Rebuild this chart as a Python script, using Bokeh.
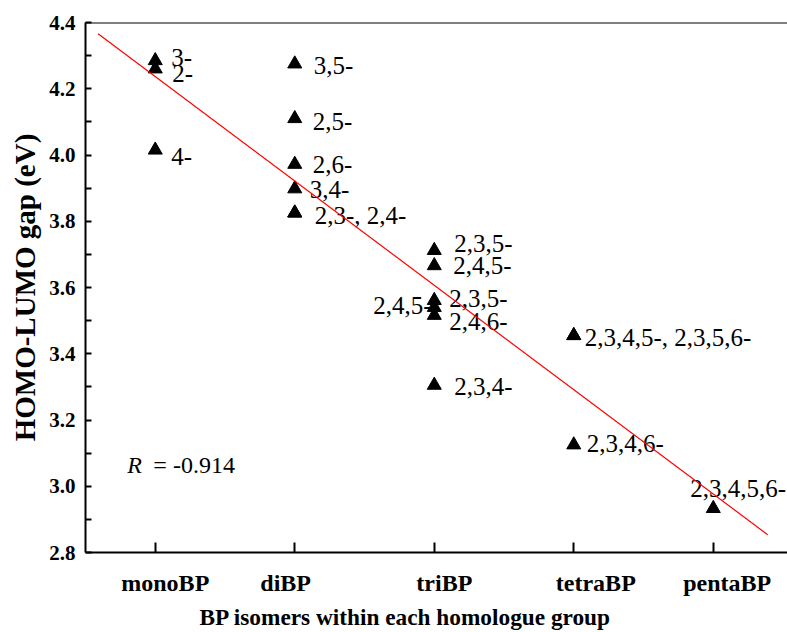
import numpy as np
from bokeh.plotting import figure
from bokeh.models import (ColumnDataSource, FixedTicker, NumeralTickFormatter,
                          Span, Label, Range1d, Title)
from bokeh.core.properties import value
from bokeh.embed import file_html
from bokeh.resources import INLINE

# Homologue groups along the x axis
groups = ["monoBP", "diBP", "triBP", "tetraBP", "pentaBP"]

# HOMO-LUMO gaps (eV) of the isomers in each group
mono_isomers = ["3-", "2-", "4-"]
mono_gap = [4.285, 4.26, 4.015]
di_isomers = ["3,5-", "2,5-", "2,6-", "3,4-", "2,3-", "2,4-"]
di_gap = [4.275, 4.11, 3.972, 3.898, 3.825, 3.825]
tri_isomers = ["2,3,5-", "2,4,5-", "2,3,5-", "2,4,5-", "2,4,6-", "2,3,4-"]
tri_gap = [3.712, 3.666, 3.561, 3.540, 3.516, 3.305]
tetra_isomers = ["2,3,4,5-", "2,3,5,6-", "2,3,4,6-"]
tetra_gap = [3.455, 3.455, 3.125]
penta_isomers = ["2,3,4,5,6-"]
penta_gap = [2.933]

y_ticks = [2.8, 3.0, 3.2, 3.4, 3.6, 3.8, 4.0, 4.2, 4.4]
r_value = "-0.914"

isomers = [mono_isomers, di_isomers, tri_isomers, tetra_isomers, penta_isomers]
gaps = [mono_gap, di_gap, tri_gap, tetra_gap, penta_gap]

# one row per isomer
xs, ys = [], []
for gi, gap in enumerate(gaps):
    xs += [gi + 1] * len(gap)
    ys += list(gap)

# isomers sharing the same gap get one combined label
lab_x, lab_y, lab_t = [], [], []
for gi, (names, gap) in enumerate(zip(isomers, gaps)):
    i = 0
    while i < len(names):
        j = i
        while j + 1 < len(names) and gap[j + 1] == gap[i]:
            j += 1
        lab_x.append(gi + 1)
        lab_y.append(gap[i])
        lab_t.append(", ".join(names[i:j + 1]))
        i = j + 1

# pixel offsets of each label from its marker
label_dx = [16, 17, 16,
            19, 18, 18, 15, 20,
            20, 19, 15, -61, 15, 20,
            11, 13,
            -23]
label_dy = [-3, 5, 6,
            2, 3, 0, 1, 3,
            -7, 0, -2, -2, 6, 1,
            2, -1,
            -20]

# small horizontal nudges of the group names relative to their ticks
group_label_shift = [0.072, -0.065, 0.072, 0.158, 0.10]

serif = "Liberation Serif"

p = figure(width=787, height=632,
           x_range=Range1d(0.5, 5.532), y_range=Range1d(2.8, 4.4),
           output_backend="svg", toolbar_location=None,
           min_border_left=85, min_border_right=0,
           min_border_top=22, min_border_bottom=80)
p.outline_line_color = None
p.xgrid.visible = False
p.ygrid.visible = False
p.background_fill_color = "white"
p.border_fill_color = "white"

# top border of the frame
p.add_layout(Span(location=4.4, dimension="width", line_color="black", line_width=2))

pts = ColumnDataSource(dict(x=xs, y=ys))
p.scatter("x", "y", source=pts, marker="triangle", size=14,
          fill_color="black", line_color="black")

labs = ColumnDataSource(dict(x=lab_x, y=lab_y, text=lab_t, dx=label_dx, dy=label_dy))
p.text("x", "y", text="text", source=labs, x_offset="dx", y_offset="dy",
       text_font=value(serif), text_font_size="25px", text_color="black",
       text_align="left", text_baseline="middle")

# least-squares line through all isomers
slope, intercept = np.polyfit(xs, ys, 1)
fit_x = np.array([0.59, 5.39])
p.line(fit_x, slope * fit_x + intercept, line_color="#ff0000", line_width=1.2)

# correlation coefficient
p.add_layout(Label(x=0.80, y=3.063, text="R", text_font=serif,
                   text_font_style="italic", text_font_size="24px",
                   text_color="black", text_baseline="middle", text_align="left"))
p.add_layout(Label(x=0.80, y=3.063, x_offset=26, text="= " + r_value,
                   text_font=serif, text_font_size="24px", text_color="black",
                   text_baseline="middle", text_align="left"))

# x axis: group ticks drawn as the (long) minor ticks, names as major labels
group_pos = list(range(1, len(groups) + 1))
name_ticks = [g + s for g, s in zip(group_pos, group_label_shift)]
xa = p.xaxis[0]
xa.ticker = FixedTicker(ticks=name_ticks, minor_ticks=group_pos)
xa.major_label_overrides = {t: g for t, g in zip(name_ticks, groups)}
xa.major_tick_line_color = None
xa.major_tick_in = 0
xa.minor_tick_in = 10
xa.major_label_text_font_size = "24px"
xa.major_label_standoff = 17

ya = p.yaxis[0]
ya.ticker = FixedTicker(ticks=y_ticks,
                        minor_ticks=list(np.round(np.arange(2.9, 4.4, 0.2), 1)))
ya.formatter = NumeralTickFormatter(format="0.0")
ya.major_tick_line_color = "black"
ya.major_tick_line_width = 2
ya.major_tick_in = 6
ya.minor_tick_in = 6
ya.major_label_text_font_size = "21px"
ya.major_label_standoff = 10

for ax in (xa, ya):
    ax.axis_line_width = 2
    ax.axis_line_color = "black"
    ax.minor_tick_line_width = 2
    ax.minor_tick_line_color = "black"
    ax.major_tick_out = 0
    ax.minor_tick_out = 0
    ax.major_label_text_font = serif
    ax.major_label_text_font_style = "bold"
    ax.major_label_text_color = "black"

# axis titles
p.add_layout(Title(text="BP isomers within each homologue group", align="left",
                   offset=114, text_font=serif, text_font_style="bold",
                   text_font_size="23.3px", text_color="black", standoff=6), "below")
p.add_layout(Title(text="HOMO-LUMO gap (eV)", align="center", offset=-25,
                   text_font=serif, text_font_style="bold", text_font_size="29px",
                   text_color="black", standoff=12), "left")

open("out.html", "w").write(file_html(p, INLINE))
